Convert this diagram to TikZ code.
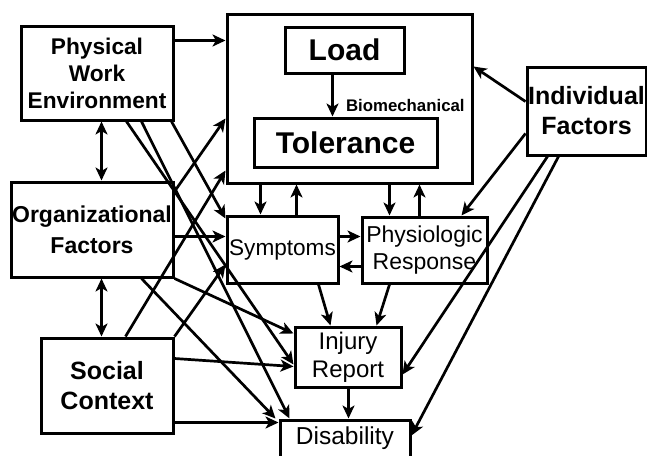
\documentclass[tikz,border=0pt]{standalone}
\usepackage{fontspec}
\setmainfont{Liberation Sans}
\usetikzlibrary{arrows.meta,calc}
\begin{document}
\begin{tikzpicture}[x=1pt,y=-1pt,
  box/.style={draw, line width=3pt, inner sep=0pt, align=center},
  arr/.style={line width=2.7pt, -{Stealth[length=13pt,width=12pt,inset=3.5pt]}},
  dbl/.style={line width=2.7pt, {Stealth[length=13pt,width=12pt,inset=3.5pt]}-{Stealth[length=13pt,width=12pt,inset=3.5pt]}}]
\clip (0,0) rectangle (647,455);
% left hand factors
\draw (97,73) node[box, minimum width=152pt, minimum height=94pt, font=\bfseries\fontsize{22.7pt}{27pt}\selectfont](phys) {Physical\\Work\\Environment} ;
\draw (92,229.5) node[box, minimum width=162pt, minimum height=95pt, font=\bfseries\fontsize{23pt}{31pt}\selectfont](org) {Organizational\\Factors} ;
\draw (107,385.5) node[box, minimum width=132pt, minimum height=95pt, font=\bfseries\fontsize{25pt}{30pt}\selectfont](social) {Social\\Context} ;
% load and tolerance
\draw (349.5,98.5) node[box, minimum width=245pt, minimum height=169pt](big) {} ;
  \draw (344.5,50) node[box, minimum width=119pt, minimum height=46pt, font=\bfseries\fontsize{30pt}{32pt}\selectfont](load) {Load} ;
  \draw (345.5,142.5) node[box, minimum width=183pt, minimum height=49pt, font=\bfseries\fontsize{30pt}{32pt}\selectfont](tol) {Tolerance} ;
\draw (586.5,111) node[box, minimum width=119pt, minimum height=88pt, font=\bfseries\fontsize{25pt}{30pt}\selectfont](indiv) {Individual\\Factors} ;
% outcomes
\draw (282.5,249.5) node[box, minimum width=111pt, minimum height=67pt, font=\fontsize{22.6pt}{27pt}\selectfont](symp) {Symptoms} ;
\draw (424.5,250) node[box, minimum width=125pt, minimum height=66pt, font=\fontsize{23pt}{27pt}\selectfont](resp) {Physiologic\\Response} ;
\draw (348,357) node[box, minimum width=106pt, minimum height=60pt, font=\fontsize{24pt}{28pt}\selectfont](injury) {Injury\\Report} ;
\draw (345,438.5) node[box, minimum width=130pt, minimum height=37pt, font=\fontsize{24.5pt}{28pt}\selectfont](disab) {Disability} ;
% inside the big box
\draw[arr] ($(load.south west)+(49,0)$) -- ($(tol.north west)+(80,0)$) ;
\node[anchor=west, font=\bfseries\fontsize{16.8pt}{18pt}\selectfont] (bio) at ($(load.south west)+(59,31)$) {Biomechanical} ;
% from physical work environment
\draw[arr] ($(phys.north east)+(0,16)$) -- ($(big.north west)+(0,28)$) ;
\draw[arr] ($(phys.south east)+(-3,0)$) -- ($(symp.north west)+(0,4)$) ;
\draw[arr] ($(phys.south west)+(107,0)$) -- ($(injury.north west)+(0,39)$) ;
\draw[arr] ($(phys.south west)+(122,0)$) -- ($(disab.north west)+(11,0)$) ;
\draw[dbl] ($(phys.south west)+(82,0)$) -- ($(org.north west)+(92,0)$) ;
% from organizational factors
\draw[arr] ($(org.north east)+(0,11)$) -- ($(big.north west)+(0,106)$) ;
\draw[arr] ($(org.north east)+(0,56)$) -- ($(symp.north west)+(0,22)$) ;
\draw[arr] (org.south east) -- ($(injury.north west)+(0,8)$) ;
\draw[arr] ($(org.south east)+(-33,0)$) -- ($(disab.north west)+(-3,0)$) ;
\draw[dbl] ($(org.south west)+(92,0)$) -- ($(social.north west)+(62,0)$) ;
% from social context
\draw[arr] ($(social.north west)+(86,0)$) -- ($(big.north west)+(0,158)$) ;
\draw[arr] (social.north east) -- ($(symp.north west)+(0,50)$) ;
\draw[arr] ($(social.north east)+(0,22)$) -- ($(injury.north west)+(0,41)$) ;
\draw[arr] ($(social.north east)+(0,86)$) -- ($(disab.north west)+(0,4)$) ;
% from individual factors
\draw[arr] ($(indiv.north west)+(0,36)$) -- ($(big.north east)+(0,54)$) ;
\draw[arr] ($(indiv.north west)+(0,68)$) -- ($(resp.north west)+(101,0)$) ;
\draw[arr] ($(indiv.south west)+(22,0)$) -- ($(injury.north east)+(0,49)$) ;
\draw[arr] ($(indiv.south west)+(33,0)$) -- ($(disab.north east)+(0,17)$) ;
% between outcomes
\draw[arr] ($(big.south west)+(35,0)$) -- ($(symp.north west)+(35,0)$) ;
\draw[arr] ($(symp.north west)+(71,0)$) -- ($(big.south west)+(71,0)$) ;
\draw[arr] ($(big.south west)+(164,0)$) -- ($(resp.north west)+(29,0)$) ;
\draw[arr] ($(resp.north west)+(59,0)$) -- ($(big.south west)+(194,0)$) ;
\draw[arr] ($(symp.north east)+(0,22)$) -- ($(resp.north west)+(0,21)$) ;
\draw[arr] ($(resp.north west)+(0,51)$) -- ($(symp.north east)+(0,52)$) ;
\draw[arr] ($(symp.south west)+(93,0)$) -- ($(injury.north west)+(37,0)$) ;
\draw[arr] ($(resp.south west)+(29,0)$) -- ($(injury.north west)+(83,0)$) ;
\draw[arr] ($(injury.south west)+(55,0)$) -- ($(disab.north west)+(70,0)$) ;
\end{tikzpicture}
\end{document}
